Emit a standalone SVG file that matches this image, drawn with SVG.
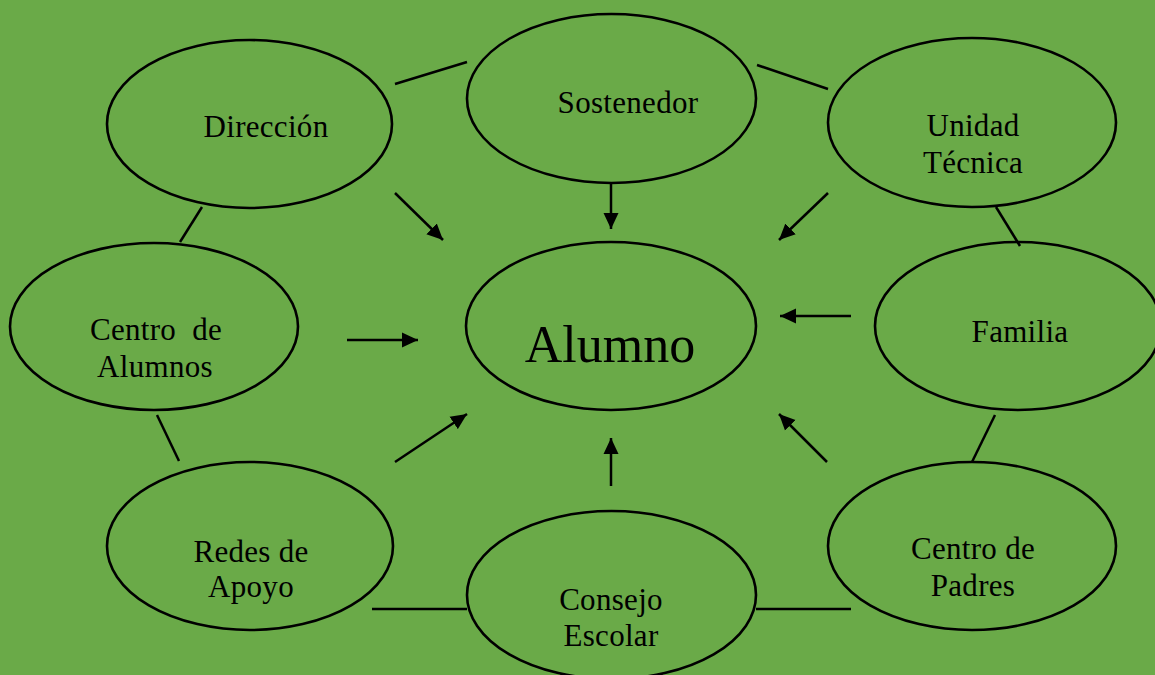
<svg xmlns="http://www.w3.org/2000/svg" width="1155" height="675" viewBox="0 0 1155 675">
<style>
.node{fill:none;stroke:#000;stroke-width:2.6}
.lbl{font-family:"Liberation Serif","Times New Roman",serif;font-size:31px;letter-spacing:0.3px;text-anchor:middle;fill:#000}
.big{font-size:52px;letter-spacing:0}
.ln{stroke:#000;stroke-width:2.5;fill:none}
.ar{marker-end:url(#ah)}
</style>
<defs>
<marker id="ah" markerUnits="userSpaceOnUse" markerWidth="16" markerHeight="16" refX="16" refY="8" orient="auto">
<path d="M0,0.5 L16,8 L0,15.5 z" fill="#000"/>
</marker>
</defs>
<rect x="0" y="0" width="1155" height="675" fill="#6AAA48"/>
<g id="connectors">
<line class="ln" x1="395" y1="84" x2="467" y2="62"/>
<line class="ln" x1="757" y1="65" x2="828" y2="89"/>
<line class="ln" x1="202" y1="207" x2="180" y2="242"/>
<line class="ln" x1="996" y1="207" x2="1020" y2="246"/>
<line class="ln" x1="157" y1="415" x2="179" y2="461"/>
<line class="ln" x1="995" y1="415" x2="972" y2="462"/>
<line class="ln" x1="372" y1="609" x2="467" y2="609"/>
<line class="ln" x1="756" y1="609" x2="851" y2="609"/>
<line class="ln ar" x1="611" y1="183" x2="611" y2="229"/>
<line class="ln ar" x1="395" y1="193" x2="443" y2="240"/>
<line class="ln ar" x1="828" y1="193" x2="779" y2="240"/>
<line class="ln ar" x1="347" y1="340" x2="418" y2="340"/>
<line class="ln ar" x1="851" y1="316" x2="780" y2="316"/>
<line class="ln ar" x1="395" y1="462" x2="467" y2="414"/>
<line class="ln ar" x1="827" y1="462" x2="779" y2="414"/>
<line class="ln ar" x1="611" y1="486" x2="611" y2="438"/>
</g>
<g id="sostenedor">
<ellipse class="node" cx="611.5" cy="98.5" rx="144.5" ry="84.5"/>
<text class="lbl" x="628" y="113">Sostenedor</text>
</g>
<g id="direccion">
<ellipse class="node" cx="249.5" cy="124" rx="142.5" ry="84"/>
<text class="lbl" x="266" y="137">Dirección</text>
</g>
<g id="unidad-tecnica">
<ellipse class="node" cx="972" cy="122.5" rx="144" ry="84.5"/>
<text class="lbl" x="973" y="136">Unidad</text>
<text class="lbl" x="973" y="173">Técnica</text>
</g>
<g id="alumno">
<ellipse class="node" cx="611" cy="326" rx="145" ry="84"/>
<text class="lbl big" x="610" y="362">Alumno</text>
</g>
<g id="centro-alumnos">
<ellipse class="node" cx="154" cy="326.5" rx="144" ry="83.5"/>
<text class="lbl" x="156" y="340" xml:space="preserve">Centro  de</text>
<text class="lbl" x="155" y="377">Alumnos</text>
</g>
<g id="familia">
<ellipse class="node" cx="1018" cy="326" rx="143" ry="84"/>
<text class="lbl" x="1020" y="342">Familia</text>
</g>
<g id="redes-apoyo">
<ellipse class="node" cx="250" cy="546" rx="143" ry="84"/>
<text class="lbl" x="251" y="562">Redes de</text>
<text class="lbl" x="251" y="597">Apoyo</text>
</g>
<g id="centro-padres">
<ellipse class="node" cx="972" cy="546" rx="144" ry="84"/>
<text class="lbl" x="973" y="559">Centro de</text>
<text class="lbl" x="973" y="596">Padres</text>
</g>
<g id="consejo-escolar">
<ellipse class="node" cx="611.5" cy="595" rx="144.5" ry="84"/>
<text class="lbl" x="611" y="610">Consejo</text>
<text class="lbl" x="611" y="646">Escolar</text>
</g>
</svg>
